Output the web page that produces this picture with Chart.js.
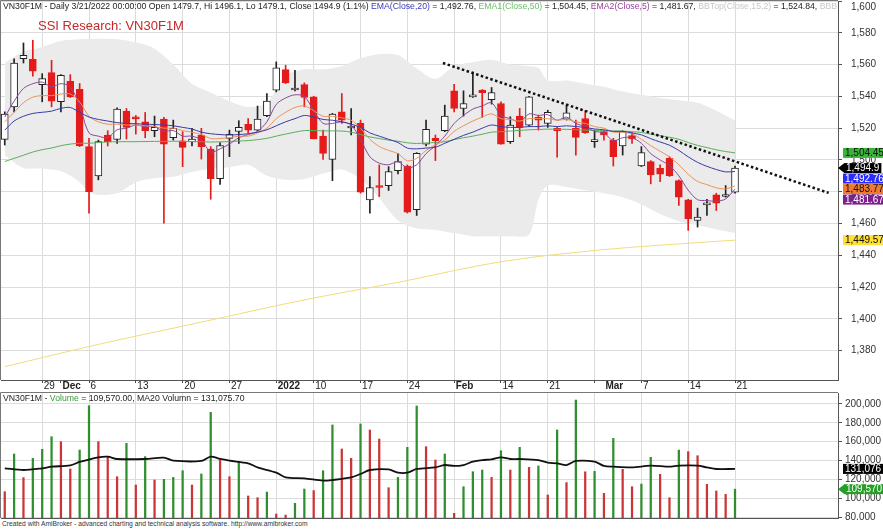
<!DOCTYPE html>
<html lang="en">
<head>
  <meta charset="UTF-8">
  <title>VN30F1M Daily</title>
  <script src="https://cdn.jsdelivr.net/npm/chart.js"></script>
  <style>
    body {
      margin: 0;
      background: #fff;
      font-family: Arial, "Liberation Sans", sans-serif;
    }
    #wrap {
      position: relative;
      width: 883px;
      height: 529px;
      overflow: hidden;
      background: #fff;
    }
    canvas {
      position: absolute;
      left: 0;
    }
    #price { top: 0; }
    #vol { top: 392px; }
    #hdr {
      position: absolute;
      left: 3px;
      top: 1px;
      width: 834px;
      overflow: hidden;
      white-space: nowrap;
      font-size: 8.7px;
      line-height: 10px;
      color: #222;
    }
    #title {
      position: absolute;
      left: 38px;
      top: 18px;
      font-size: 13px;
      color: #c62828;
      white-space: nowrap;
    }
    #vhdr {
      position: absolute;
      left: 3px;
      top: 393px;
      font-size: 8.7px;
      line-height: 10px;
      color: #222;
      white-space: nowrap;
    }
    #foot {
      position: absolute;
      left: 2px;
      top: 520px;
      font-size: 6.7px;
      line-height: 8px;
      color: #333;
      white-space: nowrap;
    }
  </style>
</head>
<body>
<div id="wrap">
  <canvas id="price" width="883" height="392"></canvas>
  <canvas id="vol" width="883" height="128"></canvas>
  <div id="hdr">VN30F1M - Daily 3/21/2022 00:00:00 Open 1479.7, Hi 1496.1, Lo 1479.1, Close 1494.9 (1.1%) <span style="color:#3a3ab8">EMA(Close,20)</span> = 1,492.76, <span style="color:#6cbf6c">EMA1(Close,50)</span> = 1,504.45, <span style="color:#9a3f9a">EMA2(Close,5)</span> = 1,481.67, <span style="color:#c8c8c8">BBTop(Close,15,2)</span> = 1,524.84, <span style="color:#c8c8c8">BBBot</span></div>
  <div id="title">SSI Research: VN30F1M</div>
  <div id="vhdr">VN30F1M - <span style="color:#3c9a3c">Volume</span> = 109,570.00, MA20 Volumn = 131,075.70</div>
  <div id="foot">Created with AmiBroker - advanced charting and technical analysis software. http://www.amibroker.com</div>
</div>

<script>
  // daily bars, 23 Nov 2021 .. 21 Mar 2022 (index 0..78)
  const open = [1513.0,1533.4,1563.7,1563.3,1547.4,1555.0,1536.6,1549.5,1544.5,1508.4,
    1490.0,1515.7,1513.0,1530.7,1527.2,1524.0,1518.4,1525.7,1514.0,1512.1,
    1511.3,1515.7,1506.9,1488.3,1513.6,1518.0,1522.4,1518.8,1527.8,1543.9,
    1556.8,1544.0,1547.4,1539.7,1515.0,1500.4,1530.3,1520.1,1523.0,1474.9,
    1483.7,1483.9,1493.3,1496.2,1468.7,1510.0,1513.6,1518.4,1543.5,1532.4,
    1539.7,1543.9,1538.0,1535.5,1511.5,1527.6,1521.9,1526.8,1523.0,1519.9,
    1525.7,1519.9,1526.1,1511.5,1517.8,1512.5,1508.8,1515.3,1496.2,1499.0,
    1494.8,1501.0,1487.0,1474.9,1462.0,1471.8,1478.1,1477.0,1479.7];
  const high = [1530.3,1563.7,1573.6,1575.2,1554.3,1562.7,1553.7,1553.7,1548.1,1513.6,
    1512.5,1518.4,1532.8,1532.4,1528.0,1529.9,1527.6,1526.8,1525.1,1517.8,
    1519.9,1519.9,1508.4,1510.9,1518.8,1524.7,1526.1,1533.9,1541.8,1561.7,
    1559.6,1556.4,1548.5,1540.1,1518.8,1529.3,1541.8,1532.4,1525.1,1489.6,
    1496.9,1495.8,1504.2,1496.9,1504.6,1525.1,1515.7,1534.5,1547.6,1543.5,
    1555.4,1544.3,1545.6,1536.6,1527.2,1532.4,1540.1,1528.2,1531.3,1520.5,
    1534.5,1525.1,1530.9,1518.8,1518.4,1513.6,1518.4,1517.1,1508.4,1499.6,
    1496.9,1502.1,1487.5,1475.3,1469.7,1475.3,1479.1,1483.9,1496.1];
  const low = [1509.4,1530.3,1561.0,1552.7,1536.6,1533.4,1530.3,1539.3,1508.4,1466.6,
    1487.5,1508.8,1510.4,1513.2,1516.3,1514.0,1514.6,1460.3,1512.5,1495.8,
    1508.8,1500.6,1475.3,1484.7,1502.1,1510.4,1517.1,1518.4,1527.2,1542.8,
    1548.1,1543.5,1533.4,1513.2,1500.4,1487.0,1523.0,1515.7,1479.1,1466.6,
    1477.0,1480.8,1491.2,1466.6,1465.1,1508.8,1499.6,1517.8,1530.3,1527.6,
    1539.3,1526.8,1535.1,1510.0,1510.4,1514.6,1521.3,1518.8,1520.5,1501.7,
    1525.1,1503.1,1516.7,1507.9,1512.5,1496.2,1503.1,1510.4,1495.8,1485.0,
    1486.4,1489.6,1471.4,1455.7,1457.8,1465.1,1468.2,1476.6,1479.1];
  const close = [1528.8,1561.0,1565.8,1555.8,1551.2,1537.0,1553.3,1539.7,1508.8,1480.1,
    1511.5,1511.5,1532.0,1520.5,1525.9,1518.4,1520.5,1510.0,1519.9,1507.9,
    1513.2,1508.4,1488.3,1509.0,1516.1,1520.5,1518.8,1525.7,1537.0,1557.9,
    1548.5,1544.7,1539.3,1513.2,1504.2,1528.8,1525.1,1520.5,1479.7,1482.7,
    1482.7,1492.7,1499.0,1467.2,1504.2,1519.2,1512.1,1527.6,1532.4,1535.5,
    1540.8,1542.4,1542.4,1510.0,1521.9,1520.5,1539.7,1525.1,1529.9,1518.4,
    1529.7,1514.2,1517.1,1511.9,1515.7,1502.1,1517.8,1513.2,1504.6,1490.6,
    1491.0,1490.2,1476.6,1463.0,1464.1,1472.8,1472.8,1478.1,1494.9];

  const volume = [106900,146900,121800,142300,151900,165300,160000,131000,151100,198200,
    160000,144100,122800,158200,114000,144100,119300,120000,122100,129200,
    114000,125700,191100,140500,122800,138800,102300,100500,106500,83200,
    82100,94500,109700,108000,129200,177700,152200,142300,178800,172400,
    162800,111100,122100,154000,197900,154700,140500,146900,83900,112200,
    128100,129900,122100,150400,129900,154000,132700,134200,103400,172400,
    116500,204200,128000,128500,105100,163500,130600,112200,115000,143400,
    125300,100500,151100,149400,145100,114700,107600,104100,109570];

  const ema5 = [1527,1537,1545,1548,1549,1546,1548,1546,1534,1517,
    1515,1514,1519,1520,1522,1521,1521,1518,1518.5,1515,
    1515,1512.5,1505,1507,1510,1514,1516,1518,1524,1535,
    1539,1541,1540,1531,1523,1523,1524,1522,1513,1502,
    1498,1497,1499,1495,1497,1504,1509,1515,1523,1528,
    1532,1534,1536,1528,1526,1524,1529,1528,1528.5,1525,
    1527,1523,1521,1518,1517,1512,1514,1514,1510.5,1504,
    1500,1496.5,1490,1481,1475,1474.5,1474,1475.5,1481.67];
  const ema10 = [1524,1530,1536,1539.5,1540.5,1540.5,1541.5,1541.5,1536.5,1527.5,
    1524,1522.5,1522.5,1522,1522,1521.5,1521,1520,1520,1518.5,
    1517.5,1516,1513.5,1513.5,1514,1515,1515,1517,1520,1526,
    1530,1533,1534,1531,1527.5,1527.5,1526.5,1525,1520,1513,
    1508.5,1506,1504,1499.5,1501,1506,1509.5,1512.5,1518,1521.5,
    1524.5,1527,1529,1526,1525.5,1524.5,1526,1526,1526,1525,
    1525.5,1524,1523,1521,1520,1517.5,1517.5,1516.5,1513,1509,
    1505.5,1502,1497,1491,1486.5,1484.5,1482.5,1481.8,1483.77];
  const ema20 = [1518.8,1524.5,1527.5,1529.3,1530,1530.7,1532.5,1533,1530,1527,
    1525.5,1524.5,1523.5,1523,1522.8,1522.5,1522.3,1522,1521.5,1520.5,
    1519.5,1517.5,1516.5,1516,1515.7,1516,1516.5,1517.5,1519,1521.5,
    1524,1526,1528,1527,1525.5,1525,1524,1522.5,1520.5,1517,
    1515,1513,1511,1507.5,1507,1507.5,1508,1510.5,1513,1515.5,
    1517.5,1520,1522,1521,1520.5,1520.5,1521,1521,1521.5,1521,
    1521.5,1521,1520.5,1519.5,1519,1518,1518,1517,1515.8,1513.4,
    1511.3,1509.3,1506,1502,1498.5,1496,1494,1492.5,1492.76];
  const ema50 = [1499,1501,1503,1505,1506.5,1507.5,1509,1510,1510.5,1510.5,
    1511,1511.3,1511.5,1511.5,1511.5,1511.6,1511.7,1511.7,1511.8,1511.7,
    1511.6,1511.5,1511.3,1511.4,1511.6,1511.9,1512.2,1512.8,1513.6,1515,
    1516.3,1517.5,1518.5,1518.5,1518.3,1518.3,1518.2,1517.5,1516,1514.5,
    1513.5,1512.5,1511.8,1510.8,1510.4,1510.7,1511,1511.5,1512.8,1514,
    1515,1516.2,1517.5,1517.8,1518.2,1518.6,1519,1519.2,1519.4,1519.3,
    1519.3,1519,1518.8,1518.6,1518.4,1518.2,1518.2,1517.8,1517.3,1516.3,
    1515.3,1514.3,1513,1511,1509.2,1507.8,1506.4,1505.3,1504.45];

  // long average (yellow), read at a few bars
  const longIdx = [0, 10, 21, 32, 42, 53, 64, 74, 78];
  const longVal = [1370, 1384, 1398, 1412, 1423, 1436, 1443.6, 1448, 1449.57];

  // Bollinger band (15,2)
  const bbIdx = [0,2,4,6,8,9,10,12,14,16,18,20,22,24,26,28,30,32,34,36,38,40,42,44,46,48,50,52,54,56,57,58,60,62,64,66,68,70,72,74,76,78];
  const bbTop = [1561,1568,1571,1575,1576,1576.3,1576.3,1576,1574,1570,1560,1548,1542.5,1537,1533.4,1536,1553,1557,1557,1559,1564,1566.5,1566,1557.5,1551,1559,1561.5,1563,1560,1559,1558,1550,1550,1548,1546,1543,1541,1539,1537.5,1536,1531,1524.84];
  const bbBot = [1503,1495,1494.5,1493,1486,1480,1478,1479,1486,1488.5,1489.5,1492.5,1494.5,1495.5,1497,1490,1487.5,1488,1491.5,1494,1488,1476,1462,1457,1456,1454,1452,1452,1452,1453,1475,1484,1483,1481,1479,1476.5,1472,1466,1461.5,1459,1456.5,1454];

  // dotted trend line (start / end)
  const trendIdx = [46.8, 88];
  const trendVal = [1561, 1479.3];

  // volume MA20
  const volMaIdx = [0,2,4,5,7,8,10,11,12,15,17,18,21,22,23,24,26,27,29,30,32,34,35,37,38,39,41,42,43,44,46,47,48,49,50,51,52,53,54,55,57,58,59,60,61,63,64,65,67,69,71,72,74,75,76,78];
  const volMa = [131700,129900,131700,133400,134800,138500,143400,144100,141600,141600,143000,139800,139500,144100,141600,139800,137000,132700,127100,122100,121100,118600,119300,122100,125700,129900,130600,127100,127100,131000,132700,135200,134200,135200,138800,140500,141200,143400,141600,141600,140500,137700,137000,135200,139500,138800,134200,133400,132700,134500,133400,134500,134500,132700,131000,131076];

  // date axis
  const tickIdx  = [4, 6, 9, 14, 19, 24, 29, 33, 38, 43, 48, 53, 58, 64, 68, 73, 78];
  const tickText = ['29', 'Dec', '6', '13', '20', '27', '2022', '10', '17', '24', 'Feb', '14', '21', 'Mar', '7', '14', '21'];
  const boldText = ['Dec', '2022', 'Feb', 'Mar'];
  const gridIdx  = [4, 9, 14, 19, 24, 29, 33, 38, 43, 48, 53, 58, 63, 68, 73, 78];

  const priceTicks = [1380, 1400, 1420, 1440, 1460, 1480, 1500, 1520, 1540, 1560, 1580, 1600];
  const volTicks = [80000, 100000, 120000, 140000, 160000, 180000, 200000];

  // last values shown in the right margin
  const priceTags = [
    { value: 1504.45, text: '1,504.45', bg: '#3cb43c', fg: '#111' },
    { value: 1494.9,  text: '1,494.9',  bg: '#000',    fg: '#fff', arrow: true },
    { value: 1492.76, text: '1,492.76', bg: '#2b2bff', fg: '#fff' },
    { value: 1483.77, text: '1,483.77', bg: '#f07830', fg: '#111' },
    { value: 1481.67, text: '1,481.67', bg: '#7d1f8c', fg: '#fff' },
    { value: 1449.57, text: '1,449.57', bg: '#ffe033', fg: '#111' }
  ];
  const volTags = [
    { value: 131076, text: '131,076', bg: '#000',    fg: '#fff' },
    { value: 109570, text: '109,570', bg: '#25a025', fg: '#fff', arrow: true }
  ];

  const RED = '#e51b1b';
  const FONT = 'Arial, "Liberation Sans", sans-serif';
  Chart.defaults.font.family = FONT;
  Chart.defaults.font.size = 10;
  Chart.defaults.color = '#222';

  const idx = close.map((_, i) => i);
  const allTicks = [...new Set([...tickIdx, ...gridIdx])].sort((a, b) => a - b);

  function tagPlugin(tags, step) {
    return {
      id: 'tags',
      afterDraw(chart) {
        const { ctx, chartArea, scales } = chart;
        let prev = -1e9;
        ctx.save();
        ctx.font = '10px ' + FONT;
        ctx.textBaseline = 'middle';
        tags.forEach(t => {
          let y = scales.y.getPixelForValue(t.value);
          y = Math.max(y, prev + step);
          prev = y;
          const x0 = chartArea.right + (t.arrow ? 6 : 5);
          const w = t.arrow ? ctx.measureText(t.text).width + 4 : 40;
          ctx.fillStyle = t.bg;
          ctx.fillRect(x0, y - 5, w, 10);
          if (t.arrow) {
            ctx.beginPath();
            ctx.moveTo(chartArea.right, y);
            ctx.lineTo(x0 + 0.5, y - 5);
            ctx.lineTo(x0 + 0.5, y + 5);
            ctx.closePath();
            ctx.fill();
          }
          ctx.fillStyle = t.fg;
          ctx.fillText(t.text, x0 + 2, y + 0.5);
        });
        ctx.restore();
      }
    };
  }

  // frame on the left and top of the plot, and the top price label kept inside the canvas
  function framePlugin(topLabel) {
    return {
      id: 'frame',
      afterDraw(chart) {
        const { ctx, chartArea, scales } = chart;
        ctx.save();
        ctx.strokeStyle = '#777';
        ctx.lineWidth = 1;
        ctx.beginPath();
        ctx.moveTo(chartArea.left - 0.5, chartArea.bottom);
        ctx.lineTo(chartArea.left - 0.5, chartArea.top - 0.5);
        ctx.lineTo(chartArea.right, chartArea.top - 0.5);
        ctx.stroke();
        if (topLabel) {
          const y = Math.max(scales.y.getPixelForValue(topLabel), 7);
          ctx.font = '10px ' + FONT;
          ctx.fillStyle = '#333';
          ctx.textBaseline = 'middle';
          ctx.fillText(topLabel.toLocaleString('en-US'), chartArea.right + 13, y);
        }
        ctx.restore();
      }
    };
  }

  function xScale(showLabels) {
    return {
      type: 'linear',
      min: -0.4,
      max: 89,
      offset: false,
      afterBuildTicks: ax => { ax.ticks = allTicks.map(v => ({ value: v })); },
      afterFit: ax => {
        ax.height = showLabels ? 12 : 2;
        ax.paddingLeft = 0;
        ax.paddingRight = 0;
      },
      ticks: {
        display: showLabels,
        autoSkip: false,
        maxRotation: 0,
        align: 'start',
        padding: -3,
        labelOffset: 1.5,
        color: '#222',
        callback: v => {
          const k = tickIdx.indexOf(v);
          return k < 0 ? '' : tickText[k];
        },
        font: ctx => {
          const k = tickIdx.indexOf(ctx.tick && ctx.tick.value);
          return { size: 10, weight: k >= 0 && boldText.includes(tickText[k]) ? 'bold' : 'normal' };
        }
      },
      grid: {
        offset: false,
        color: ctx => gridIdx.includes(ctx.tick && ctx.tick.value) ? '#dcdcdc' : 'rgba(0,0,0,0)',
        drawTicks: showLabels,
        tickLength: 3,
        tickColor: ctx => {
          const v = ctx.tick && ctx.tick.value;
          return (gridIdx.includes(v) || v === 6) ? '#444' : 'rgba(0,0,0,0)';
        }
      },
      border: { color: '#555' }
    };
  }

  function yFit(ax) {
    ax.width = 45;
    ax.paddingTop = 0;
    ax.paddingBottom = 0;
  }

  // price pane
  new Chart(document.getElementById('price'), {
    type: 'bar',
    data: {
      datasets: [
        {
          type: 'line', label: 'BBTop',
          data: bbIdx.map((x, k) => ({ x, y: bbTop[k] })),
          borderWidth: 0, pointRadius: 0, tension: 0.3,
          backgroundColor: '#ebebeb', fill: '+1', order: 20
        },
        {
          type: 'line', label: 'BBBot',
          data: bbIdx.map((x, k) => ({ x, y: bbBot[k] })),
          borderWidth: 0, pointRadius: 0, tension: 0.3, fill: false, order: 19
        },
        {
          type: 'line', label: 'MA long',
          data: longIdx.map((x, k) => ({ x, y: longVal[k] })),
          borderColor: '#f2dc7a', borderWidth: 1, pointRadius: 0, tension: 0.35, order: 5
        },
        {
          type: 'line', label: 'EMA50',
          data: idx.map(i => ({ x: i, y: ema50[i] })),
          borderColor: '#5cad5c', borderWidth: 1, pointRadius: 0, tension: 0.3, order: 4
        },
        {
          type: 'line', label: 'EMA20',
          data: idx.map(i => ({ x: i, y: ema20[i] })),
          borderColor: '#3a3aa8', borderWidth: 1, pointRadius: 0, tension: 0.3, order: 3
        },
        {
          type: 'line', label: 'EMA10',
          data: idx.map(i => ({ x: i, y: ema10[i] })),
          borderColor: '#e8935e', borderWidth: 1, pointRadius: 0, tension: 0.3, order: 3
        },
        {
          type: 'line', label: 'EMA5',
          data: idx.map(i => ({ x: i, y: ema5[i] })),
          borderColor: '#8a4a9a', borderWidth: 1, pointRadius: 0, tension: 0.3, order: 3
        },
        {
          label: 'wick',
          data: idx.map(i => ({ x: i, y: [low[i], high[i]] })),
          backgroundColor: idx.map(i => close[i] >= open[i] ? '#222' : RED),
          barThickness: 1, grouped: false, order: 8
        },
        {
          label: 'body',
          data: idx.map(i => ({ x: i, y: [open[i], close[i]] })),
          backgroundColor: idx.map(i => close[i] >= open[i] ? '#fff' : RED),
          borderColor: idx.map(i => close[i] >= open[i] ? '#222' : RED),
          borderWidth: 1, borderSkipped: false, minBarLength: 2,
          barThickness: 7, grouped: false, order: 7
        },
        {
          type: 'line', label: 'trend',
          data: trendIdx.map((x, k) => ({ x, y: trendVal[k] })),
          borderColor: '#111', borderWidth: 2.5, borderDash: [2.5, 2.5],
          pointRadius: 0, order: 0
        }
      ]
    },
    options: {
      responsive: false,
      animation: false,
      events: [],
      layout: { padding: { left: 1, top: 1, right: 0, bottom: 0 } },
      plugins: { legend: { display: false }, tooltip: { enabled: false } },
      scales: {
        x: xScale(true),
        y: {
          type: 'linear',
          position: 'right',
          min: 1361.6,
          max: 1600,
          afterBuildTicks: ax => { ax.ticks = priceTicks.map(v => ({ value: v })); },
          afterFit: yFit,
          ticks: {
            padding: 9,
            color: '#333',
            callback: v => v === 1600 ? '' : v.toLocaleString('en-US')
          },
          grid: { color: '#dcdcdc', tickLength: 4, tickColor: '#555' },
          border: { color: '#555' }
        }
      }
    },
    plugins: [framePlugin(1600), tagPlugin(priceTags, 10.5)]
  });

  // volume pane
  new Chart(document.getElementById('vol'), {
    type: 'bar',
    data: {
      datasets: [
        {
          type: 'line', label: 'MA20 Volumn',
          data: volMaIdx.map((x, k) => ({ x, y: volMa[k] })),
          borderColor: '#111', borderWidth: 1.8, pointRadius: 0, tension: 0.3, order: 0
        },
        {
          label: 'Volume',
          data: idx.map(i => ({ x: i, y: volume[i] })),
          backgroundColor: idx.map(i => (i > 0 && volume[i] >= volume[i - 1]) ? '#2f8f2f' : '#cc3535'),
          barThickness: 1.6, grouped: false, order: 1
        }
      ]
    },
    options: {
      responsive: false,
      animation: false,
      events: [],
      layout: { padding: { left: 1, top: 1, right: 0, bottom: 0 } },
      plugins: { legend: { display: false }, tooltip: { enabled: false } },
      scales: {
        x: xScale(false),
        y: {
          type: 'linear',
          position: 'right',
          min: 78942,
          max: 211681,
          afterBuildTicks: ax => { ax.ticks = volTicks.map(v => ({ value: v })); },
          afterFit: yFit,
          ticks: {
            padding: 3,
            color: '#333',
            callback: v => v.toLocaleString('en-US')
          },
          grid: { color: '#dcdcdc', tickLength: 4, tickColor: '#555' },
          border: { color: '#555' }
        }
      }
    },
    plugins: [framePlugin(null), tagPlugin(volTags, 11)]
  });
</script>
</body>
</html>
